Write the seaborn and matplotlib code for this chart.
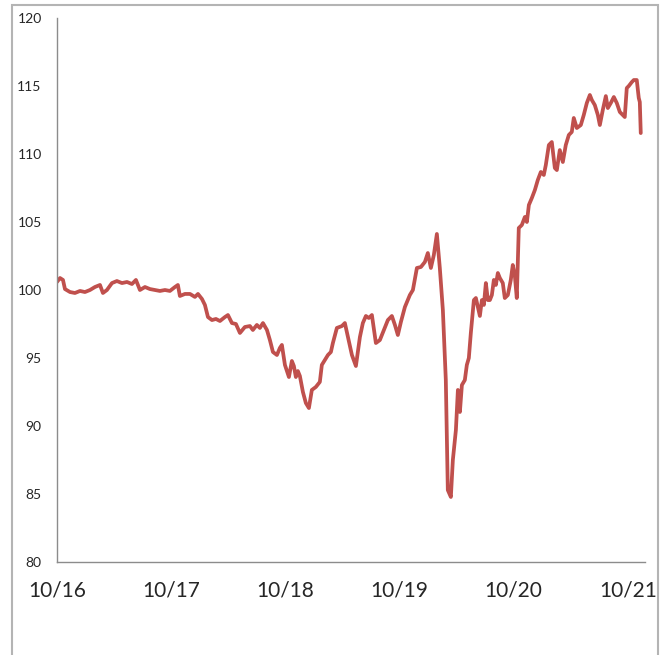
import seaborn as sns
import matplotlib.pyplot as plt
import matplotlib.patches as patches
import pandas as pd

# months elapsed since October 2016 and index level
months = [0, 0.32, 0.63, 0.84, 1.37, 1.89, 2.42, 2.94, 3.47, 3.99, 4.52, 4.83, 5.25, 5.78,
          6.30, 6.83, 7.36, 7.88, 8.30, 8.72, 9.25, 9.77, 10.30, 10.82, 11.35, 11.87, 12.40,
          12.71, 12.92, 13.45, 13.98, 14.50, 14.82, 15.24, 15.55, 15.87, 16.29, 16.71, 17.13,
          17.65, 17.97, 18.39, 18.81, 19.23, 19.75, 20.28, 20.59, 21.01, 21.33, 21.65, 22.07,
          22.38, 22.70, 23.12, 23.43, 23.64, 23.96, 24.38, 24.69, 24.90, 25.11, 25.32, 25.53,
          25.85, 26.16, 26.48, 26.79, 27.21, 27.63, 27.84, 28.16, 28.48, 28.79, 29.00, 29.42,
          29.95, 30.26, 30.58, 31.00, 31.42, 31.84, 32.15, 32.47, 32.78, 33.10, 33.52, 33.94,
          34.36, 34.78, 35.20, 35.52, 35.83, 36.15, 36.57, 37.09, 37.41, 37.83, 38.25, 38.67,
          38.98, 39.30, 39.61, 39.93, 40.24, 40.56, 40.87, 41.08, 41.40, 41.61, 41.93, 42.14,
          42.35, 42.56, 42.87, 43.08, 43.29, 43.50, 43.82, 44.03, 44.24, 44.45, 44.66, 44.87,
          45.08, 45.29, 45.50, 45.71, 45.92, 46.13, 46.34, 46.55, 46.86, 47.07, 47.39, 47.70,
          47.91, 48.12, 48.33, 48.54, 48.86, 49.18, 49.39, 49.60, 49.91, 50.23, 50.54, 50.86,
          51.17, 51.38, 51.70, 52.01, 52.33, 52.54, 52.85, 53.17, 53.48, 53.80, 54.11, 54.32,
          54.64, 55.06, 55.37, 55.69, 56.01, 56.22, 56.53, 56.85, 57.06, 57.37, 57.69, 57.90,
          58.21, 58.53, 58.84, 59.16, 59.47, 59.68, 59.89, 60.10, 60.42, 60.63, 60.94, 61.15,
          61.26, 61.36]

index_level = [100.59, 100.88, 100.74, 100.07, 99.85, 99.78, 99.93, 99.85, 100.0, 100.22,
               100.37, 99.78, 100.0, 100.51, 100.66, 100.51, 100.59, 100.44, 100.74, 100.0,
               100.22, 100.07, 100.0, 99.93, 100.0, 99.93, 100.22, 100.37, 99.56, 99.71, 99.71,
               99.49, 99.71, 99.34, 98.9, 98.01, 97.79, 97.87, 97.72, 98.01, 98.16, 97.57, 97.5,
               96.84, 97.28, 97.35, 97.06, 97.43, 97.21, 97.57, 97.06, 96.32, 95.44, 95.22,
               95.74, 95.96, 94.49, 93.6, 94.78, 94.41, 93.6, 94.04, 93.68, 92.5, 91.69, 91.32,
               92.65, 92.87, 93.24, 94.49, 94.85, 95.22, 95.44, 96.1, 97.21, 97.35, 97.57, 96.54,
               95.22, 94.41, 96.54, 97.57, 98.09, 97.94, 98.16, 96.1, 96.32, 97.06, 97.79, 98.09,
               97.43, 96.69, 97.65, 98.75, 99.63, 100.0, 101.62, 101.69, 102.06, 102.72, 101.62,
               102.57, 104.12, 101.62, 98.53, 93.38, 85.29, 84.78, 87.5, 89.71, 92.65, 91.03,
               93.01, 93.38, 94.49, 95.0, 96.84, 99.26, 99.41, 98.75, 98.09, 99.26, 98.9, 100.51,
               99.26, 99.26, 99.63, 100.74, 100.37, 101.25, 100.88, 100.51, 99.41, 99.63, 100.74,
               101.84, 101.1, 99.41, 104.56, 104.78, 105.37, 105.0, 106.25, 106.76, 107.35,
               108.09, 108.68, 108.46, 109.19, 110.66, 110.88, 108.97, 108.82, 110.29, 109.41,
               110.66, 111.4, 111.62, 112.65, 111.91, 112.13, 112.87, 113.75, 114.34, 113.97,
               113.6, 112.87, 112.13, 113.24, 114.26, 113.38, 113.75, 114.19, 113.75, 113.09,
               112.87, 112.72, 114.85, 115.0, 115.29, 115.44, 115.44, 114.12, 113.82, 111.54]

tick_months = [0, 12, 24, 36, 48, 60]
tick_labels = ["10/16", "10/17", "10/18", "10/19", "10/20", "10/21"]

df = pd.DataFrame({"months": months, "level": index_level})

sns.set_style("white")
plt.rcParams["font.family"] = ["Lato", "DejaVu Sans"]

fig = plt.figure(figsize=(6.64, 6.55), dpi=100)
ax = fig.add_axes([0.0858, 0.142, 0.8855, 0.8305])

sns.lineplot(data=df, x="months", y="level", color="#c0504d", linewidth=2.7, ax=ax)

ax.set_xlim(0, 61.8)
ax.set_ylim(80, 120)
ax.set_yticks(range(80, 121, 5))
ax.set_xticks(tick_months)
ax.set_xticklabels(tick_labels, fontsize=15)
ax.tick_params(axis="y", labelsize=10, length=0, pad=11)
ax.tick_params(axis="x", length=0, pad=13)
ax.set_xlabel("")
ax.set_ylabel("")

for side in ["top", "right"]:
    ax.spines[side].set_visible(False)
for side in ["left", "bottom"]:
    ax.spines[side].set_color("#8c8c8c")
    ax.spines[side].set_linewidth(1.0)

# light frame around the whole chart
frame = patches.Rectangle((12 / 664, -0.01), 646 / 664, 1.0024, transform=fig.transFigure,
                          fill=False, edgecolor="#b4b4b4", linewidth=1.5)
fig.patches.append(frame)

plt.savefig("out.png", dpi=100)
plt.close()
